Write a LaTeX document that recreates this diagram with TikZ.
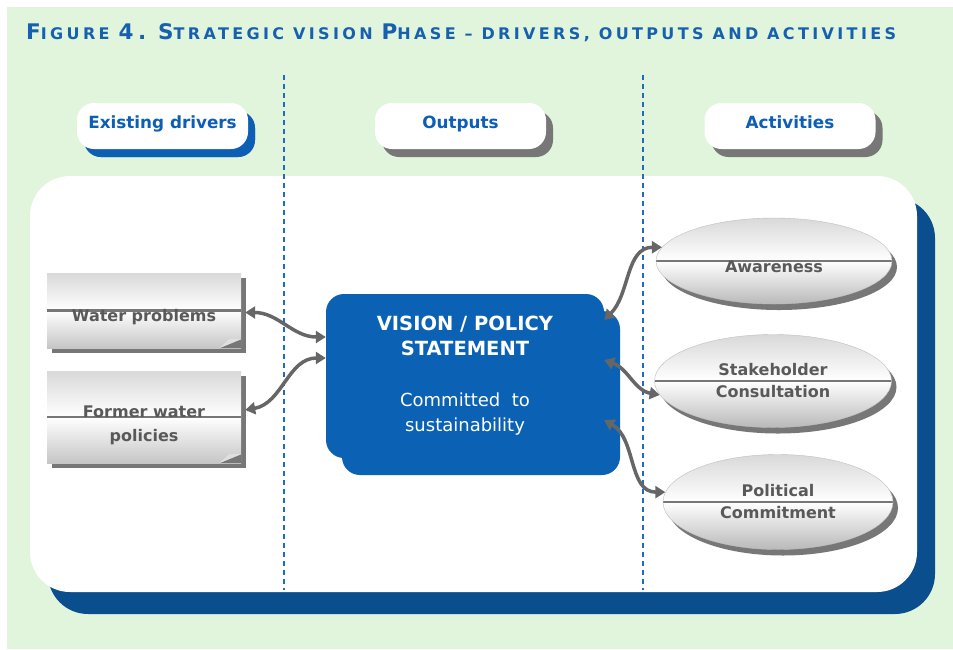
\documentclass[tikz,border=0pt]{standalone}
\usepackage{fontspec}
\setmainfont{DejaVu Sans}
\usepackage{tikz}
\usetikzlibrary{arrows.meta,positioning,calc,shapes.geometric,shadows}

\definecolor{bggreen}{HTML}{E0F5DC}
\definecolor{titleblue}{HTML}{1760B0}
\definecolor{hdrblue}{HTML}{0D5FB5}
\definecolor{visionblue}{HTML}{0B62B5}
\definecolor{panelblue}{HTML}{0A4E8E}
\definecolor{boxgray}{HTML}{777777}
\definecolor{textgray}{HTML}{595959}
\definecolor{arrowgray}{HTML}{666666}
\definecolor{dashblue}{HTML}{1F6BC0}

% big letter inside the small-caps title
\newcommand{\tcap}[1]{{\fontsize{21.5}{22}\selectfont #1}}

\tikzset{
  title/.style={text=titleblue, inner sep=0pt,
    font=\fontsize{16}{17}\selectfont\bfseries\addfontfeature{LetterSpace=21}},
  header/.style={fill=white, rounded corners=17pt, minimum width=171pt,
    minimum height=46pt, text height=12pt, text depth=8pt,
    text=hdrblue, font=\fontsize{16.8}{19}\selectfont\bfseries,
    drop shadow={shadow xshift=7pt, shadow yshift=-8pt, fill=boxgray, opacity=1}},
  midline/.style={path picture={\draw[boxgray, line width=2.5pt]
    (path picture bounding box.west) -- (path picture bounding box.east);}},
  drvbox/.style={midline, minimum width=194pt, inner sep=0pt,
    top color=gray!30, bottom color=gray!45, middle color=white,
    drop shadow={shadow xshift=5pt, shadow yshift=-5pt, fill=boxgray, opacity=1}},
  drvtext/.style={text=textgray, align=center, inner sep=0pt,
    font=\fontsize{16}{24}\selectfont\bfseries},
  vision/.style={fill=visionblue, rounded corners=18pt, minimum width=278pt,
    minimum height=164pt, text=white, align=center,
    font=\fontsize{18}{25}\selectfont,
    drop shadow={shadow xshift=16pt, shadow yshift=-17pt, fill=visionblue, opacity=1}},
  activity/.style={ellipse, midline, draw=gray!50, thin, inner sep=0pt,
    top color=gray!30, bottom color=gray!55, middle color=white,
    text=textgray, align=center, font=\fontsize{16}{22}\selectfont\bfseries,
    drop shadow={shadow xshift=5pt, shadow yshift=-6pt, fill=boxgray, opacity=1}},
  link/.style={arrowgray, line width=3.5pt,
    {Triangle[length=10pt,width=12pt]}-{Triangle[length=10pt,width=12pt]}},
  divider/.style={dashblue, line width=1.2pt, dash pattern=on 5pt off 4pt}
}

\begin{document}
\begin{tikzpicture}[x=1pt, y=-1pt]
    \useasboundingbox (0,0) rectangle (953,649);
    % Background
    \fill[white] (0,0) rectangle (953,649);
    \fill[bggreen] (7,7) rectangle (953,649);

    % Title
    \node[title, anchor=base west] (title) at (26,39)
        {\tcap{F}IGURE \tcap{4.} \tcap{S}TRATEGIC VISION \tcap{P}HASE -- DRIVERS, OUTPUTS AND ACTIVITIES};

    % Panel and its shadow
    \fill[panelblue, rounded corners=40pt] (48,198) rectangle (935,614);
    \fill[white, rounded corners=40pt] (30,176) rectangle (917,592);

    % Column dividers
    \draw[divider] (284,75) -- (284,590);
    \draw[divider] (643,75) -- (643,590);

    % Column headers
    \node[header, drop shadow={shadow xshift=7pt, shadow yshift=-8pt, fill=hdrblue, opacity=1}]
        (hdrivers) at (162.5,126) {Existing drivers};
    \node[header] (houtputs) at (460.5,126) {Outputs};
    \node[header] (hactivities) at (790,126) {Activities};

    % Existing drivers
    \node[drvbox, minimum height=75pt] (water) at (144,310.5) {};
    \node[drvtext] (watertext) at ([yshift=-7pt]water.center) {Water problems};
    \node[drvbox, minimum height=92pt] (former) at (144,417) {};
    \node[drvtext] (formertext) at ([yshift=-8pt]former.center) {Former water\\policies};
    % folded corners
    \foreach \b in {water,former} {
        \fill[boxgray] ([xshift=-22pt]\b.south east) -- (\b.south east) -- ([yshift=9pt]\b.south east) -- cycle;
        \fill[gray!25] ([xshift=-22pt]\b.south east) -- ([yshift=9pt]\b.south east) -- ([xshift=-12pt,yshift=9pt]\b.south east) -- cycle;
    }

    % Output
    \node[vision] (vision) at (465,376)
        {{\fontsize{19.5}{25}\selectfont\bfseries VISION / POLICY}\\
         {\fontsize{19.5}{25}\selectfont\bfseries STATEMENT}\\[26pt]
         Committed\ \ to\\sustainability};

    % Activities
    \node[activity, minimum width=236pt, minimum height=86pt] (aware) at (774,261) {\\[2pt]Awareness};
    \node[activity, minimum width=237pt, minimum height=93pt] (stake) at (773,381) {Stakeholder\\Consultation};
    \node[activity, minimum width=230pt, minimum height=95pt] (polit) at (778,502) {Political\\Commitment};

    % Links
    \draw[link] ([xshift=4pt,yshift=-2pt]water.east) to[out=0,in=180] ([yshift=39pt]vision.west);
    \draw[link] ([xshift=4pt,yshift=7pt]former.east) to[out=10,in=180] ([yshift=18pt]vision.west);
    \draw[link] ([yshift=56pt]vision.east) to[out=45,in=180] (aware.173);
    \draw[link] ([yshift=16pt]vision.east) to[out=-20,in=170] (stake.187);
    \draw[link] ([yshift=-44pt]vision.east) to[out=-30,in=180] (polit.175);
\end{tikzpicture}
\end{document}
